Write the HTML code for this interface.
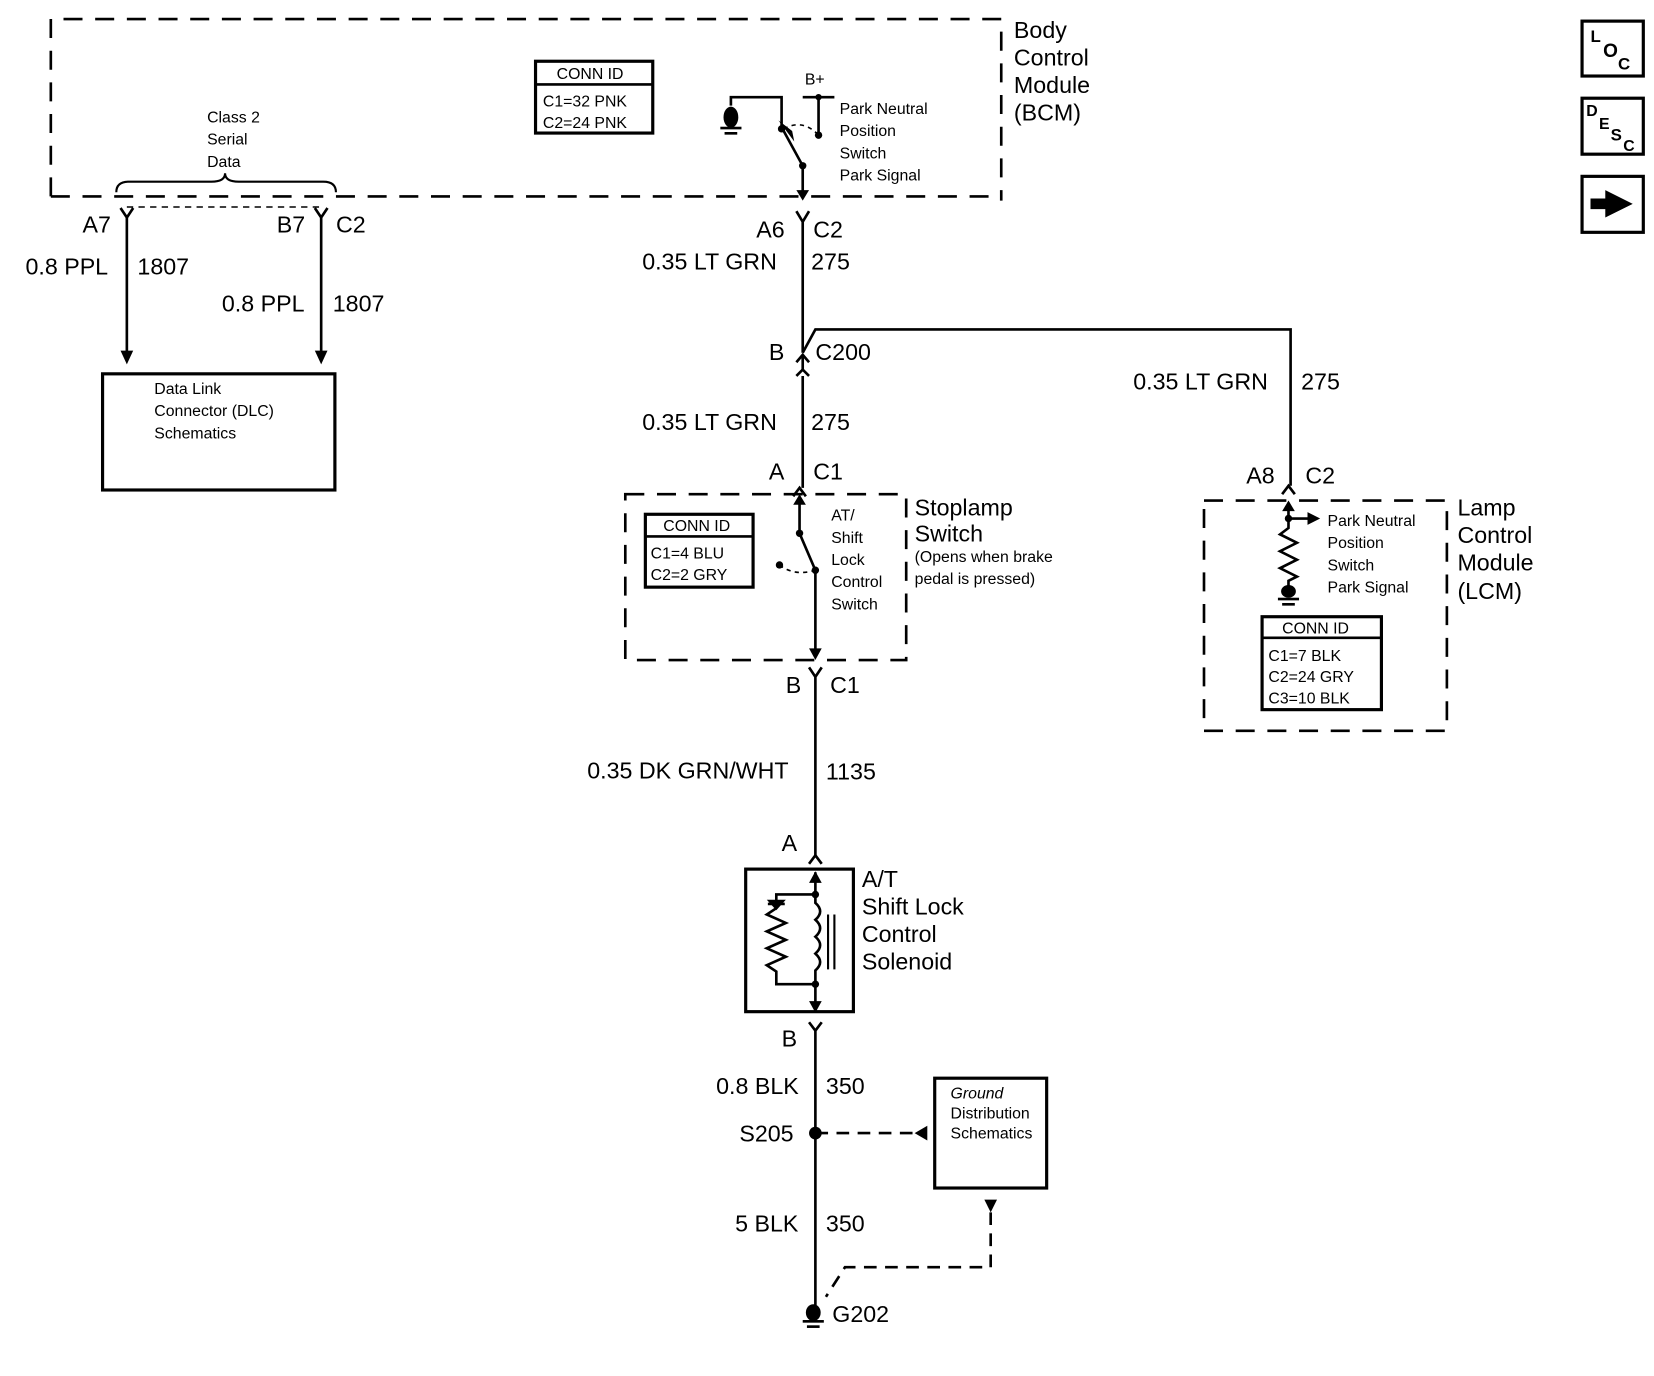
<!DOCTYPE html>
<html><head><meta charset="utf-8"><style>
html,body{margin:0;padding:0;background:#fff}
svg{display:block}
text{font-family:"Liberation Sans",sans-serif;fill:#000}
.b{font-size:22px}
.s{font-size:15px}
</style></head><body>
<svg width="1654" height="1376" viewBox="0 0 1566 1303" xmlns="http://www.w3.org/2000/svg">
<g fill="none" stroke="#000" stroke-width="2.5">
<!-- BCM box -->
<path d="M48 186 V18 H948 V190" stroke-dasharray="18 12"/>
<path d="M48 186 H948" stroke-dasharray="18 12"/>
<!-- conn id bcm -->
<rect x="507" y="58" width="111" height="68" stroke-width="3"/>
<line x1="507" y1="80" x2="618" y2="80"/>
<!-- brace -->
<path d="M110 182 Q110 172 122 172 H200 Q213 172 213 164 Q213 172 226 172 H306 Q318 172 318 182" stroke-width="2"/>
<line x1="120" y1="196" x2="304" y2="196" stroke-dasharray="6 5" stroke-width="1.5"/>
<!-- A7 B7 -->
<path d="M114 197 L120 206 L126 197 M120 206 V338"/>
<path d="M298 197 L304 206 L310 197 M304 206 V338"/>
<!-- DLC -->
<rect x="97" y="354" width="220" height="110" stroke-width="3"/>
<!-- bcm switch -->
<path d="M692 100 V92 H740 V122"/>
<path d="M760 92 H790 M775 92 V128"/>
<path d="M742 122 Q760 112 775 128" stroke-dasharray="4 4" stroke-width="1.5"/>
<path d="M742 124 L760 157 V185"/>
<!-- main wire -->
<path d="M754 200 L760 210 L766 200 M760 210 V334"/>
<path d="M754 343 L760 336 L766 343 M760 336 V350 M760 356 V462"/>
<path d="M754 356 L760 350 L766 356"/>
<path d="M760 334 L772 312 H1222 V460"/>
<path d="M1214 468 L1220 460 L1226 468"/>
<path d="M751 470 L757 462 L763 470"/>
<!-- stoplamp box -->
<rect x="592" y="468" width="266" height="157" stroke-dasharray="18 12"/>
<rect x="611" y="487" width="102" height="69" stroke-width="3"/>
<line x1="611" y1="508" x2="713" y2="508"/>
<path d="M757 472 V505 L772 540 V620"/>
<path d="M738 535 Q752 546 772 540" stroke-dasharray="4 4" stroke-width="1.5"/>
<path d="M766 632 L772 641 L778 632 M772 641 V812"/>
<path d="M766 818 L772 810 L778 818"/>
<!-- solenoid -->
<rect x="706" y="823" width="102" height="135" stroke-width="3"/>
<path d="M772 826 V847 M772 847 H735 V860 M735 860 L726 866 L744 874 L726 882 L744 890 L726 898 L744 906 L726 914 L735 920 V932 H772"/>
<path d="M727 856 H743"/>
<path d="M772 847 V855 q9 8 0 16 q9 8 0 16 q9 8 0 16 q9 8 0 16 V932 V958"/>
<path d="M784 866 V918 M790 866 V918" stroke-width="2"/>
<path d="M766 968 L772 976 L778 968 M772 976 V1240"/>
<!-- ground distribution -->
<rect x="885" y="1021" width="106" height="104" stroke-width="3"/>
<path d="M772 1073 H868" stroke-dasharray="12 8"/>
<path d="M938 1148 V1200 H800 L782 1228" stroke-dasharray="12 8"/>
<!-- LCM -->
<rect x="1140" y="474" width="230" height="218" stroke-dasharray="18 12"/>
<path d="M1220 476 V500 L1212 506 L1228 514 L1212 522 L1228 530 L1212 538 L1228 546 L1220 550 V558"/>
<path d="M1220 491 H1240"/>
<rect x="1195" y="584" width="113" height="88" stroke-width="3"/>
<line x1="1195" y1="604" x2="1308" y2="604"/>
<!-- icons -->
<rect x="1498" y="20" width="58" height="52" stroke-width="3"/>
<rect x="1498" y="93" width="58" height="53" stroke-width="3"/>
<rect x="1498" y="167" width="58" height="53" stroke-width="3"/>
</g>
<g fill="#000">
<!-- arrows -->
<path d="M114 332 L120 345 L126 332Z"/>
<path d="M298 332 L304 345 L310 332Z"/>
<path d="M754 180 L760 190 L766 180Z"/>
<path d="M737 114 L750 124 L752 134Z"/>
<path d="M751 478 L757 468 L763 478Z"/>
<path d="M766 614 L772 625 L778 614Z"/>
<path d="M766 836 L772 825 L778 836Z"/>
<path d="M766 948 L772 959 L778 948Z"/>
<path d="M1214 484 L1220 474 L1226 484Z"/>
<path d="M1238 485 L1250 491 L1238 497Z"/>
<path d="M878 1066 L866 1073 L878 1080Z"/>
<path d="M932 1136 L938 1148 L944 1136Z"/>
<path d="M1506 188 H1520 V180 L1546 193 L1520 206 V198 H1506Z"/>
<!-- dots -->
<circle cx="740" cy="122" r="3.5"/><circle cx="775" cy="92" r="3"/><circle cx="775" cy="128" r="3.5"/><circle cx="760" cy="157" r="3.5"/>
<circle cx="757" cy="505" r="3.5"/><circle cx="772" cy="540" r="3.5"/><circle cx="738" cy="535" r="3.5"/>
<circle cx="772" cy="847" r="3.5"/><circle cx="772" cy="932" r="3.5"/>
<circle cx="772" cy="1073" r="6"/><circle cx="1220" cy="491" r="3.5"/>
<path d="M726 852 L744 852 L735 862Z"/>
<!-- grounds -->
<ellipse cx="692" cy="111" rx="7" ry="10"/>
<rect x="682" y="120" width="20" height="2.5"/><rect x="686" y="125" width="12" height="2.5"/>
<ellipse cx="1220" cy="560" rx="7" ry="6"/>
<rect x="1210" y="566" width="20" height="2.5"/><rect x="1214" y="571" width="12" height="2.5"/>
<ellipse cx="770" cy="1243" rx="7" ry="8"/>
<rect x="760" y="1250" width="20" height="2.5"/><rect x="764" y="1255" width="12" height="2.5"/>
</g>
<!-- text -->
<text class="b" x="960" y="36">Body</text><text class="b" x="960" y="62">Control</text><text class="b" x="960" y="88">Module</text><text class="b" x="960" y="114">(BCM)</text>
<text class="s" x="527" y="75">CONN ID</text><text class="s" x="514" y="101">C1=32 PNK</text><text class="s" x="514" y="121">C2=24 PNK</text>
<text class="s" x="196" y="116">Class 2</text><text class="s" x="196" y="137">Serial</text><text class="s" x="196" y="158">Data</text>
<text class="s" x="762" y="80">B+</text>
<text class="s" x="795" y="108">Park Neutral</text><text class="s" x="795" y="129">Position</text><text class="s" x="795" y="150">Switch</text><text class="s" x="795" y="171">Park Signal</text>
<text class="b" x="78" y="220">A7</text><text class="b" x="262" y="220">B7</text><text class="b" x="318" y="220">C2</text>
<text class="b" x="24" y="260">0.8 PPL</text><text class="b" x="130" y="260">1807</text>
<text class="b" x="210" y="295">0.8 PPL</text><text class="b" x="315" y="295">1807</text>
<text class="s" x="146" y="373">Data Link</text><text class="s" x="146" y="394">Connector (DLC)</text><text class="s" x="146" y="415">Schematics</text>
<text class="b" x="716" y="225">A6</text><text class="b" x="770" y="225">C2</text>
<text class="b" x="608" y="255">0.35 LT GRN</text><text class="b" x="768" y="255">275</text>
<text class="b" x="728" y="341">B</text><text class="b" x="772" y="341">C200</text>
<text class="b" x="1073" y="369">0.35 LT GRN</text><text class="b" x="1232" y="369">275</text>
<text class="b" x="608" y="407">0.35 LT GRN</text><text class="b" x="768" y="407">275</text>
<text class="b" x="728" y="454">A</text><text class="b" x="770" y="454">C1</text>
<text class="b" x="1180" y="458">A8</text><text class="b" x="1236" y="458">C2</text>
<text class="s" x="628" y="503">CONN ID</text><text class="s" x="616" y="529">C1=4 BLU</text><text class="s" x="616" y="549">C2=2 GRY</text>
<text class="s" x="787" y="493">AT/</text><text class="s" x="787" y="514">Shift</text><text class="s" x="787" y="535">Lock</text><text class="s" x="787" y="556">Control</text><text class="s" x="787" y="577">Switch</text>
<text class="b" x="866" y="488">Stoplamp</text><text class="b" x="866" y="513">Switch</text>
<text class="s" x="866" y="532">(Opens when brake</text><text class="s" x="866" y="553">pedal is pressed)</text>
<text class="s" x="1257" y="498">Park Neutral</text><text class="s" x="1257" y="519">Position</text><text class="s" x="1257" y="540">Switch</text><text class="s" x="1257" y="561">Park Signal</text>
<text class="b" x="1380" y="488">Lamp</text><text class="b" x="1380" y="514">Control</text><text class="b" x="1380" y="540">Module</text><text class="b" x="1380" y="567">(LCM)</text>
<text class="s" x="1214" y="600">CONN ID</text><text class="s" x="1201" y="626">C1=7 BLK</text><text class="s" x="1201" y="646">C2=24 GRY</text><text class="s" x="1201" y="666">C3=10 BLK</text>
<text class="b" x="744" y="656">B</text><text class="b" x="786" y="656">C1</text>
<text class="b" x="556" y="737">0.35 DK GRN/WHT</text><text class="b" x="782" y="738">1135</text>
<text class="b" x="740" y="806">A</text>
<text class="b" x="816" y="840">A/T</text><text class="b" x="816" y="866">Shift Lock</text><text class="b" x="816" y="892">Control</text><text class="b" x="816" y="918">Solenoid</text>
<text class="b" x="740" y="991">B</text>
<text class="b" x="678" y="1036">0.8 BLK</text><text class="b" x="782" y="1036">350</text>
<text class="b" x="700" y="1081">S205</text>
<text class="s" x="900" y="1040" font-style="italic" font-size="14">Ground</text><text class="s" x="900" y="1059" font-size="14">Distribution</text><text class="s" x="900" y="1078" font-size="14">Schematics</text>
<text class="b" x="696" y="1166">5 BLK</text><text class="b" x="782" y="1166">350</text>
<text class="b" x="788" y="1252">G202</text>
<text x="1506" y="40" font-size="16" font-weight="bold">L</text><text x="1518" y="54" font-size="18" font-weight="bold">O</text><text x="1532" y="66" font-size="16" font-weight="bold">C</text>
<text x="1502" y="110" font-size="15" font-weight="bold">D</text><text x="1514" y="122" font-size="15" font-weight="bold">E</text><text x="1525" y="133" font-size="16" font-weight="bold">S</text><text x="1537" y="143" font-size="15" font-weight="bold">C</text>
</svg>
</body></html>
